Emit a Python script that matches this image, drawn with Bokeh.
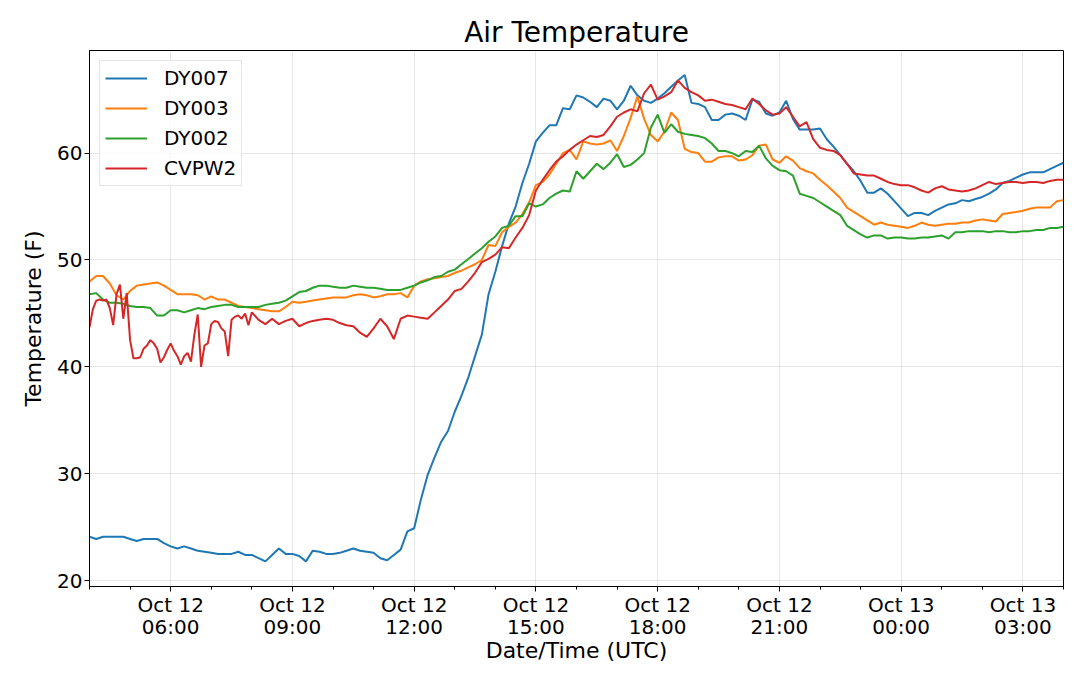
import pandas as pd
from bokeh.plotting import figure
from bokeh.models import Range1d, FixedTicker, DatetimeTickFormatter
from bokeh.embed import file_html
from bokeh.resources import INLINE

# time axis: Oct 12 04:00 UTC to Oct 13 04:00 UTC
start = pd.Timestamp("2021-10-12 04:00")
end = pd.Timestamp("2021-10-13 04:00")
t10 = pd.date_range(start, end, freq="10min")
# CVPW2 reports every 5 minutes early in the day, then every 10
t_cvpw2 = pd.date_range(start, "2021-10-12 08:00", freq="5min").append(t10[25:])

major_ticks = pd.date_range("2021-10-12 06:00", periods=8, freq="3h")
minor_ticks = pd.date_range(start, end, freq="1h")

dy007 = [24.1, 23.9, 24.1, 24.1, 24.1, 24.1, 23.9, 23.7, 23.9, 23.9,
         23.9, 23.5, 23.2, 23.0, 23.2, 23.0, 22.8, 22.7, 22.6, 22.5,
         22.5, 22.5, 22.7, 22.4, 22.4, 22.1, 21.8, 22.4, 23.0, 22.5,
         22.5, 22.3, 21.8, 22.8, 22.7, 22.5, 22.5, 22.6, 22.8, 23.0,
         22.8, 22.7, 22.6, 22.1, 21.9, 22.4, 22.9, 24.6, 24.9, 27.6,
         29.9, 31.5, 33.0, 34.0, 35.8, 37.3, 39.0, 41.0, 43.0, 46.8,
         48.9, 51.3, 53.4, 55.0, 57.2, 59.0, 61.1, 61.9, 62.6, 62.6,
         64.2, 64.1, 65.4, 65.2, 64.8, 64.3, 65.1, 64.9, 64.1, 64.9,
         66.3, 65.4, 64.9, 64.7, 65.1, 65.6, 66.2, 66.8, 67.3, 64.7,
         64.6, 64.3, 63.1, 63.1, 63.6, 63.7, 63.5, 63.1, 65.0, 64.8,
         63.7, 63.5, 63.8, 64.9, 63.2, 62.2, 62.2, 62.2, 62.3, 61.3,
         60.6, 59.8, 59.0, 58.3, 57.4, 56.3, 56.3, 56.7, 56.2, 55.5,
         54.8, 54.1, 54.4, 54.4, 54.2, 54.6, 54.9, 55.2, 55.3, 55.6,
         55.5, 55.7, 55.9, 56.2, 56.6, 57.2, 57.4, 57.7, 58.0, 58.2,
         58.2, 58.2, 58.5, 58.8, 59.1]

dy003 = [48.0, 48.5, 48.5, 47.8, 46.7, 46.3, 47.1, 47.6, 47.7, 47.8,
         47.9, 47.6, 47.2, 46.8, 46.8, 46.8, 46.7, 46.3, 46.6, 46.3,
         46.3, 46.0, 45.7, 45.6, 45.5, 45.4, 45.3, 45.2, 45.2, 45.6,
         46.1, 46.0, 46.1, 46.2, 46.3, 46.4, 46.5, 46.5, 46.5, 46.7,
         46.8, 46.7, 46.5, 46.6, 46.8, 46.8, 46.9, 46.5, 47.6, 48.0,
         48.2, 48.3, 48.4, 48.5, 48.8, 49.0, 49.3, 49.6, 50.0, 51.4,
         51.3, 52.6, 53.1, 53.5, 54.3, 55.4, 57.0, 57.3, 58.0, 59.0,
         60.0, 60.3, 59.4, 61.1, 60.9, 60.8, 60.9, 61.2, 60.2, 61.6,
         63.3, 65.3, 63.2, 61.7, 61.1, 62.0, 63.8, 63.1, 60.4, 60.1,
         60.0, 59.2, 59.2, 59.6, 59.7, 59.7, 59.3, 59.4, 59.8, 60.7,
         60.8, 59.4, 59.1, 59.7, 59.3, 58.6, 58.3, 58.1, 57.5, 57.0,
         56.4, 55.8, 54.9, 54.5, 54.1, 53.7, 53.3, 53.5, 53.3, 53.2,
         53.1, 53.0, 53.2, 53.5, 53.3, 53.2, 53.3, 53.4, 53.4, 53.5,
         53.5, 53.7, 53.8, 53.7, 53.6, 54.3, 54.4, 54.5, 54.6, 54.8,
         54.9, 54.9, 54.9, 55.5, 55.6]

dy002 = [46.8, 46.9, 46.3, 46.0, 46.0, 45.9, 45.7, 45.6, 45.6, 45.5,
         44.8, 44.8, 45.3, 45.3, 45.1, 45.3, 45.5, 45.4, 45.6, 45.7,
         45.8, 45.8, 45.6, 45.6, 45.6, 45.6, 45.8, 45.9, 46.0, 46.2,
         46.6, 47.0, 47.1, 47.4, 47.6, 47.6, 47.5, 47.4, 47.4, 47.6,
         47.5, 47.4, 47.4, 47.3, 47.2, 47.2, 47.2, 47.4, 47.6, 47.9,
         48.1, 48.4, 48.5, 48.9, 49.1, 49.6, 50.1, 50.6, 51.1, 51.7,
         52.2, 53.0, 53.2, 54.1, 54.1, 55.3, 55.0, 55.2, 55.8, 56.2,
         56.5, 56.4, 58.3, 57.6, 58.3, 59.0, 58.5, 59.1, 59.9, 58.7,
         58.9, 59.4, 60.0, 62.4, 63.6, 61.9, 62.7, 62.0, 61.8, 61.7,
         61.6, 61.4, 60.9, 60.2, 60.2, 60.0, 59.7, 60.2, 60.1, 60.7,
         59.5, 58.8, 58.4, 58.3, 57.9, 56.2, 56.0, 55.8, 55.4, 55.0,
         54.6, 54.2, 53.2, 52.8, 52.4, 52.1, 52.3, 52.3, 52.0, 52.1,
         52.1, 52.0, 52.0, 52.1, 52.1, 52.2, 52.3, 52.0, 52.6, 52.6,
         52.7, 52.7, 52.7, 52.6, 52.7, 52.7, 52.6, 52.6, 52.7, 52.7,
         52.8, 52.8, 53.0, 53.0, 53.1]

cvpw2 = [43.7, 45.4, 46.2, 46.3, 46.2, 46.3, 45.5, 43.9, 46.8, 47.7,
         44.5, 46.9, 42.5, 40.8, 40.8, 40.9, 41.7, 42.0, 42.5, 42.2,
         41.7, 40.4, 40.9, 41.6, 42.2, 41.5, 41.0, 40.2, 41.0, 41.3,
         40.5, 43.0, 44.9, 40.0, 42.0, 42.2, 44.0, 44.3, 44.2, 43.6,
         43.3, 41.0, 44.4, 44.7, 44.8, 44.5, 45.0, 43.9, 45.1,
         44.4, 44.0, 44.5, 44.0, 44.3, 44.5, 43.8, 44.1, 44.3, 44.4,
         44.5, 44.4, 44.1, 43.9, 43.8, 43.2, 42.8, 43.6, 44.5, 43.8,
         42.6, 44.5, 44.8, 44.7, 44.6, 44.5, 45.1, 45.7, 46.3, 47.1,
         47.3, 48.0, 48.8, 49.8, 50.1, 50.5, 51.2, 51.1, 52.1, 53.0,
         54.2, 56.5, 57.5, 58.4, 59.2, 59.7, 60.3, 60.8, 61.2, 61.6,
         61.5, 61.7, 62.5, 63.4, 63.8, 64.1, 63.9, 65.6, 66.4, 65.0,
         65.3, 65.7, 66.8, 66.1, 65.7, 65.4, 64.9, 65.0, 64.8, 64.6,
         64.5, 64.3, 64.1, 65.1, 64.6, 64.0, 63.6, 63.7, 64.3, 63.4,
         62.5, 62.9, 61.3, 60.5, 60.3, 60.2, 59.8, 59.0, 58.1, 58.0,
         57.9, 57.9, 57.6, 57.3, 57.1, 57.0, 57.0, 56.8, 56.5, 56.3,
         56.7, 56.9, 56.6, 56.5, 56.4, 56.5, 56.7, 57.0, 57.3, 57.1,
         57.2, 57.3, 57.3, 57.2, 57.3, 57.3, 57.2, 57.4, 57.5, 57.5]

FONT = "DejaVu Sans"

p = figure(width=1064, height=665, x_axis_type="datetime",
           x_range=Range1d(start.to_pydatetime(), end.to_pydatetime()),
           y_range=Range1d(19.45, 69.6),
           title="Air Temperature", toolbar_location=None,
           output_backend="svg", min_border_left=89, min_border_right=1,
           min_border_top=50, min_border_bottom=10)

p.line(t10, dy007, line_color="#1f77b4", line_width=2, legend_label="DY007")
p.line(t10, dy003, line_color="#ff7f0e", line_width=2, legend_label="DY003")
p.line(t10, dy002, line_color="#2ca02c", line_width=2, legend_label="DY002")
p.line(t_cvpw2, cvpw2, line_color="#d62728", line_width=2, legend_label="CVPW2")

p.title.align = "center"
p.title.text_font = FONT
p.title.text_font_size = "28px"
p.title.text_font_style = "normal"
p.title.text_color = "black"
p.title.standoff = 4

p.outline_line_color = "black"
p.outline_line_width = 1
p.outline_line_alpha = 1

p.xaxis.ticker = FixedTicker(ticks=[t.value / 1e6 for t in major_ticks],
                             minor_ticks=[t.value / 1e6 for t in minor_ticks])
fmt = "%b %d\n%H:%M"
p.xaxis.formatter = DatetimeTickFormatter(seconds=fmt, minsec=fmt, minutes=fmt,
                                          hourmin=fmt, hours=fmt, days=fmt,
                                          months=fmt, years=fmt)
p.yaxis.ticker = FixedTicker(ticks=[20, 30, 40, 50, 60])

for ax in (p.xaxis, p.yaxis):
    ax.axis_line_color = "black"
    ax.major_tick_line_color = "black"
    ax.major_tick_out = 5
    ax.major_tick_in = 0
    ax.major_label_text_font = FONT
    ax.major_label_text_font_size = "20px"
    ax.major_label_text_color = "black"
    ax.axis_label_text_font = FONT
    ax.axis_label_text_font_size = "22px"
    ax.axis_label_text_font_style = "normal"
    ax.axis_label_text_color = "black"

p.xaxis.minor_tick_line_color = "black"
p.xaxis.minor_tick_out = 3
p.xaxis.minor_tick_in = 0
p.xaxis.major_label_standoff = 1
p.xaxis.major_label_text_line_height = 0.92
p.xaxis.axis_label = "Date/Time (UTC)"
p.xaxis.axis_label_standoff = -4
p.xaxis.axis_label_text_line_height = 0.9
p.yaxis.minor_tick_line_color = None
p.yaxis.major_label_standoff = 2
p.yaxis.axis_label = "Temperature (F)"
p.yaxis.axis_label_standoff = 8

p.grid.grid_line_color = "#b0b0b0"
p.grid.grid_line_alpha = 0.3

p.legend.location = "top_left"
p.legend.margin = 10
p.legend.padding = 5
p.legend.spacing = 6
p.legend.glyph_width = 42
p.legend.glyph_height = 24
p.legend.label_height = 24
p.legend.label_standoff = 17
p.legend.label_text_font = FONT
p.legend.label_text_font_size = "20px"
p.legend.label_text_color = "black"
p.legend.border_line_color = "#cccccc"
p.legend.background_fill_alpha = 0.8

open("out.html", "w").write(file_html(p, INLINE))
